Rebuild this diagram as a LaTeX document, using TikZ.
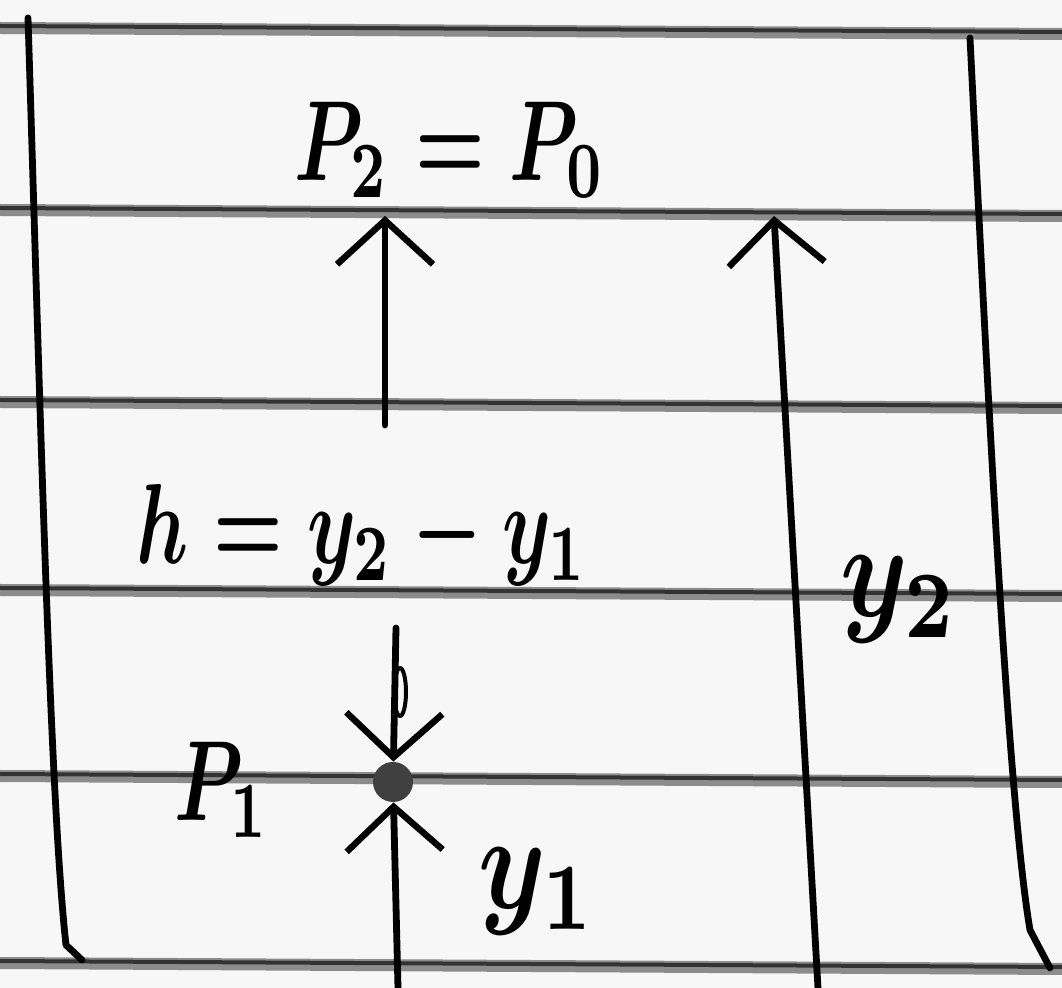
\documentclass[tikz,border=0pt]{standalone}
\usepackage{graphicx}
\usetikzlibrary{arrows.meta}
\newcommand{\hw}[1]{\scalebox{3.9}[5.7]{\boldmath$#1$}}
\newcommand{\hwb}[1]{\scalebox{5.4}[6.8]{\boldmath$#1$}}
\begin{document}
\begin{tikzpicture}[x=0.5pt,y=-0.5pt,
  ink/.style={line width=3.4pt, black, line cap=round, line join=round},
  rule/.style={line width=6pt, black!45},
  ruleink/.style={line width=2pt, black!80},
  lbl/.style={inner sep=0pt},
  tip/.style={-{Straight Barb[length=22pt,width=48pt,line width=3.2pt]}}
]
\fill[black!3] (0,0) rectangle (1062,988);
\useasboundingbox (0,0) rectangle (1062,988);
% ruled lines of the paper
\foreach \yy in {28,210,402,590,776,963} {
  \draw[rule] (0,\yy) -- (1062,\yy+6);
  \draw[ruleink] (0,\yy-2) -- (1062,\yy+4);
}
% tube walls
\draw[ink] (28,18) .. controls (40,400) and (50,800) .. (66,945) -- (82,960);
\draw[ink] (970,38) .. controls (988,400) and (1008,800) .. (1030,930) -- (1050,968);
% coordinates
\coordinate (a1b) at (385,425);
\coordinate (a1t) at (385,216);
\coordinate (a2b) at (818,988);
\coordinate (a2t) at (774,216);
\coordinate (a3t) at (396,628);
\coordinate (a3b) at (398,988);
\node[circle, fill=black!75, minimum size=20pt, inner sep=0pt] (dot) at (393,782) {};
% arrows
\draw[ink,tip] (a1b) -- (a1t);
\draw[ink,tip] (a2b) -- (a2t);
\draw[ink,tip] (a3t) -- (dot);
\draw[ink,tip] (a3b) -- (dot);
\draw[ink, line width=2pt] (400,692) ellipse [x radius=6, y radius=24];
% labels
\node[lbl] (p2) at (450,150) {\hw{P_2 = P_0}};
\node[lbl] (h) at (362,535) {\hw{h = y_2 - y_1}};
\node[lbl] (y2) at (900,600) {\hwb{y_2}};
\node[lbl] (p1) at (222,790) {\hw{P_1}};
\node[lbl] (y1) at (538,892) {\hwb{y_1}};
\end{tikzpicture}
\end{document}
